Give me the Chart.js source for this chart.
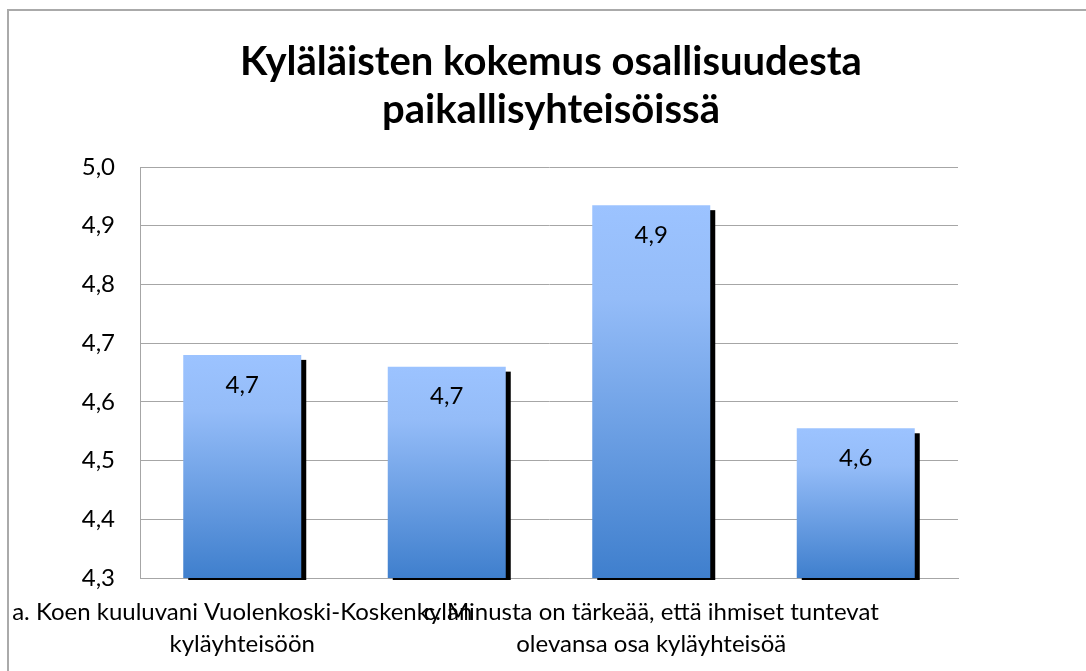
<!DOCTYPE html>
<html>
<head>
<meta charset="utf-8">
<script src="https://cdn.jsdelivr.net/npm/chart.js@4.4.1/dist/chart.umd.min.js"></script>
<style>
    html, body { margin: 0; padding: 0; background: #fff; }
    #wrap { position: relative; width: 1086px; height: 671px; overflow: hidden; }
    #frame {
        position: absolute; left: 7px; top: 9px; width: 1200px; height: 800px;
        border-top: 2px solid #aaaaaa; border-left: 2px solid #aaaaaa;
        pointer-events: none;
    }
</style>
</head>
<body>
<div id="wrap">
    <canvas id="chart" width="1086" height="671"></canvas>
    <div id="frame"></div>
</div>
<script>
// --- Data ---
const titleLines = ['Kyläläisten kokemus osallisuudesta', 'paikallisyhteisöissä'];
const categories = [
    ['a. Koen kuuluvani Vuolenkoski-Koskenkylän', 'kyläyhteisöön'],
    ['b.'],
    ['c. Minusta on tärkeää, että ihmiset tuntevat', 'olevansa osa kyläyhteisöä'],
    ['d.']
];
const values = [4.68, 4.66, 4.935, 4.555];
const yMin = 4.3;
const yMax = 5.0;
const yStep = 0.1;

const fontFamily = 'Lato, "Noto Sans", sans-serif';

function fiNumber(v) {
    return v.toFixed(1).replace('.', ',');
}

// black drop shadow behind every bar
const barShadow = {
    id: 'barShadow',
    beforeDatasetsDraw(chart) {
        const ctx = chart.ctx;
        const bottom = chart.chartArea.bottom + 2;
        const meta = chart.getDatasetMeta(0);
        ctx.save();
        ctx.fillStyle = '#000';
        meta.data.forEach(bar => {
            const left = bar.x - bar.width / 2 + 5;
            ctx.fillRect(left, bar.y + 5, bar.width, bottom - (bar.y + 5));
        });
        ctx.restore();
    }
};

// value labels inside the top of each bar
const valueLabels = {
    id: 'valueLabels',
    afterDatasetsDraw(chart) {
        const ctx = chart.ctx;
        const meta = chart.getDatasetMeta(0);
        ctx.save();
        ctx.font = '24px ' + fontFamily;
        ctx.fillStyle = '#000';
        ctx.textAlign = 'center';
        ctx.textBaseline = 'middle';
        meta.data.forEach((bar, i) => {
            ctx.fillText(fiNumber(values[i]), bar.x, bar.y + 30);
        });
        ctx.restore();
    }
};

function barGradient(context) {
    const chart = context.chart;
    const area = chart.chartArea;
    if (!area || context.type !== 'data') return '#7aa8ea';
    const top = chart.scales.y.getPixelForValue(context.raw);
    const g = chart.ctx.createLinearGradient(0, top, 0, area.bottom);
    g.addColorStop(0, '#9cc3ff');
    g.addColorStop(0.25, '#94bcf8');
    g.addColorStop(1, '#3f7fcd');
    return g;
}

new Chart(document.getElementById('chart'), {
    type: 'bar',
    data: {
        labels: categories,
        datasets: [{
            data: values,
            backgroundColor: barGradient,
            borderWidth: 0,
            barPercentage: 1,
            categoryPercentage: 0.577
        }]
    },
    options: {
        responsive: false,
        animation: false,
        layout: { padding: { left: 16, right: 0, top: 0, bottom: 0 } },
        plugins: {
            legend: { display: false },
            tooltip: { enabled: false },
            title: {
                display: true,
                text: titleLines,
                color: '#000',
                font: { family: fontFamily, size: 40, weight: 'bold', lineHeight: 1.2 },
                padding: { top: 38, bottom: 33 }
            }
        },
        scales: {
            x: {
                grid: { display: false, drawTicks: false },
                border: { display: true, color: '#a6a6a6', width: 1 },
                ticks: {
                    autoSkip: false,
                    maxRotation: 0,
                    minRotation: 0,
                    padding: 19,
                    color: '#000',
                    font: { family: fontFamily, size: 24, lineHeight: 1.3 },
                    callback: function(value, index) {
                        return index % 2 === 0 ? categories[index] : '';
                    }
                },
                afterFit(scale) {
                    scale.height = 93;
                    scale.paddingLeft = 0;
                    scale.paddingRight = 0;
                }
            },
            y: {
                min: yMin,
                max: yMax,
                grid: { color: '#a6a6a6', drawTicks: false },
                border: { display: true, color: '#a6a6a6' },
                ticks: {
                    stepSize: yStep,
                    padding: 25,
                    color: '#000',
                    font: { family: fontFamily, size: 24 },
                    callback: v => fiNumber(v)
                },
                afterFit(scale) {
                    scale.width = 124;
                }
            },
            // empty right-hand space next to the plot
            spacer: {
                type: 'linear',
                position: 'right',
                display: true,
                grid: { display: false, drawTicks: false },
                border: { display: false },
                ticks: { display: false },
                afterFit(scale) {
                    scale.width = 128;
                }
            }
        }
    },
    plugins: [barShadow, valueLabels]
});
</script>
</body>
</html>
